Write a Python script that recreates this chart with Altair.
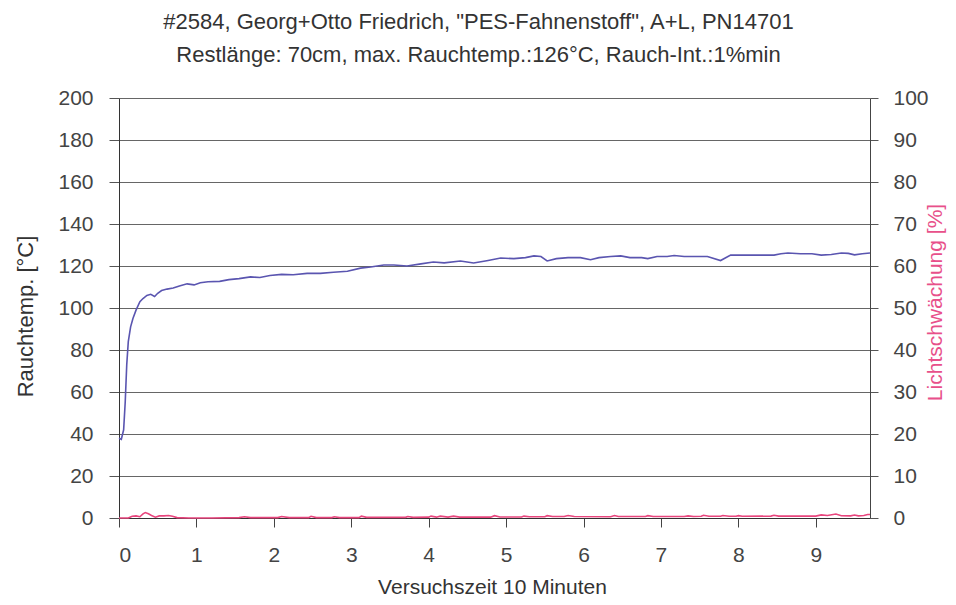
import altair as alt
import pandas as pd

title_lines = [
    '#2584, Georg+Otto Friedrich, "PES-Fahnenstoff", A+L, PN14701',
    "Restlänge: 70cm, max. Rauchtemp.:126°C, Rauch-Int.:1%min",
]

# Rauchtemp. [°C] (left axis)
temp_t = [0, 0.03, 0.06, 0.08, 0.1, 0.12, 0.15, 0.18, 0.22, 0.27, 0.31, 0.36, 0.41, 0.46,
          0.5, 0.55, 0.62, 0.7, 0.78, 0.88, 0.97, 1.05, 1.15, 1.3, 1.42, 1.55, 1.7, 1.82,
          1.95, 2.1, 2.25, 2.43, 2.6, 2.77, 2.95, 3.12, 3.25, 3.42, 3.55, 3.72, 3.9, 4.06,
          4.2, 4.41, 4.58, 4.75, 4.93, 5.1, 5.25, 5.36, 5.45, 5.53, 5.65, 5.8, 5.96, 6.09,
          6.2, 6.35, 6.48, 6.6, 6.75, 6.83, 6.95, 7.08, 7.17, 7.3, 7.45, 7.6, 7.77, 7.9,
          8.05, 8.2, 8.35, 8.46, 8.55, 8.64, 8.8, 8.95, 9.07, 9.2, 9.33, 9.42, 9.5, 9.6, 9.7]
temp_v = [38, 37.5, 42, 55, 73, 84, 91, 95, 99, 103, 104.5, 106, 106.5, 105.5,
          107, 108.3, 109, 109.5, 110.5, 111.5, 111, 112, 112.5, 112.7, 113.5, 114, 114.8, 114.5,
          115.5, 116, 115.8, 116.5, 116.5, 117, 117.5, 119, 119.5, 120.5, 120.5, 120, 121, 121.9,
          121.5, 122.4, 121.4, 122.5, 123.8, 123.5, 124, 124.8, 124.5, 122.4, 123.5, 124, 124, 123,
          124, 124.5, 124.8, 124, 124, 123.5, 124.5, 124.5, 125, 124.5, 124.5, 124.5, 122.6, 125.2,
          125.2, 125.2, 125.2, 125.2, 125.8, 126.2, 125.8, 125.8, 125.2, 125.5, 126.2, 126, 125.3, 125.8, 126.2]

# Lichtschwächung [%] (right axis)
light_t = [0, 0.12, 0.17, 0.22, 0.27, 0.31, 0.34, 0.38, 0.42, 0.47, 0.52, 0.58, 0.64, 0.69,
           0.75, 0.9, 1.2, 1.55, 1.62, 1.7, 2.05, 2.1, 2.2, 2.45, 2.48, 2.55, 2.75, 2.78, 2.85,
           3.1, 3.13, 3.2, 3.7, 3.73, 3.8, 4.0, 4.03, 4.1, 4.15, 4.25, 4.32, 4.4, 4.8, 4.85,
           4.92, 5.2, 5.23, 5.3, 5.5, 5.53, 5.6, 5.75, 5.8, 5.88, 6.35, 6.4, 6.45, 6.8, 6.83,
           6.9, 7.3, 7.35, 7.42, 7.52, 7.55, 7.62, 7.77, 7.8, 7.88, 7.97, 8.0, 8.05, 8.42, 8.46,
           8.52, 9.0, 9.07, 9.15, 9.26, 9.33, 9.45, 9.5, 9.55, 9.62, 9.67, 9.7]
light_v = [0, 0, 0.4, 0.5, 0.3, 1.0, 1.3, 1.0, 0.6, 0.2, 0.5, 0.5, 0.6, 0.4,
           0.1, 0, 0, 0.1, 0.3, 0.1, 0.1, 0.35, 0.1, 0.1, 0.4, 0.1, 0.1, 0.3, 0.1,
           0.1, 0.45, 0.15, 0.15, 0.35, 0.15, 0.2, 0.45, 0.2, 0.45, 0.2, 0.45, 0.2, 0.2, 0.55,
           0.25, 0.25, 0.45, 0.3, 0.3, 0.55, 0.35, 0.35, 0.6, 0.35, 0.3, 0.6, 0.35, 0.35, 0.55,
           0.35, 0.35, 0.5, 0.35, 0.4, 0.65, 0.4, 0.4, 0.6, 0.4, 0.4, 0.55, 0.4, 0.45, 0.65,
           0.45, 0.45, 0.75, 0.6, 0.95, 0.55, 0.5, 0.7, 0.5, 0.6, 0.85, 0.85]

x_tick_values = [0, 0.5, 1, 1.5, 2, 2.5, 3, 3.5, 4, 4.5, 5, 5.5, 6, 6.5, 7, 7.5, 8, 8.5, 9, 9.5]
left_ticks = [0, 20, 40, 60, 80, 100, 120, 140, 160, 180, 200]
right_ticks = [0, 10, 20, 30, 40, 50, 60, 70, 80, 90, 100]

temp_df = pd.DataFrame({"t": temp_t, "v": temp_v})
light_df = pd.DataFrame({"t": light_t, "v": light_v})

FONT = "Liberation Sans"
x_scale = alt.Scale(domain=[0, 9.7], nice=False, zero=False)

x_axis = alt.Axis(
    values=x_tick_values,
    labelExpr="datum.value % 1 === 0 ? format(datum.value, 'd') : ''",
    grid=False, tickSize=9, tickColor="#444", domainColor="#333",
    labelPadding=17, labelFontSize=21, labelColor="#444", labelFont=FONT,
    title="Versuchszeit 10 Minuten", titleFontSize=21, titleFont=FONT,
    titleFontWeight="normal", titleColor="#333", titleX=373, titleY=75,
    titleBaseline="alphabetic", titleAlign="center",
)

temp_line = alt.Chart(temp_df).mark_line(color="#5a55b0", strokeWidth=1.6).encode(
    x=alt.X("t:Q", scale=x_scale, axis=x_axis),
    y=alt.Y("v:Q", scale=alt.Scale(domain=[0, 200], nice=False),
            axis=alt.Axis(values=left_ticks, grid=True, gridColor="#666", gridWidth=1,
                          tickSize=10, tickColor="#555", domainColor="#333",
                          labelPadding=16, labelFontSize=21, labelColor="#444", labelFont=FONT,
                          title="Rauchtemp. [°C]", titleFontSize=22, titleFont=FONT,
                          titleFontWeight="normal", titleColor="#333",
                          titleX=-94, titleY=218, titleAngle=-90,
                          titleAlign="center", titleBaseline="middle")),
)

light_line = alt.Chart(light_df).mark_line(color="#e8457d", strokeWidth=1.6).encode(
    x=alt.X("t:Q", scale=x_scale),
    y=alt.Y("v:Q", scale=alt.Scale(domain=[0, 100], nice=False),
            axis=alt.Axis(orient="right", values=right_ticks, grid=False,
                          tickSize=8, tickColor="#555", domainColor="#444",
                          labelPadding=15, labelFontSize=21, labelColor="#444", labelFont=FONT,
                          title="Lichtschwächung [%]", titleFontSize=21, titleFont=FONT,
                          titleFontWeight="normal", titleColor="#e8508a",
                          titleX=65, titleY=204, titleAngle=-90,
                          titleAlign="center", titleBaseline="middle")),
)

chart = alt.layer(temp_line, light_line).resolve_scale(y="independent").properties(
    width=751, height=420,
    padding={"left": 111, "top": 90, "right": 78, "bottom": 79},
    autosize=alt.AutoSizeParams(type="none"),
    background="white",
    title=alt.TitleParams(text=title_lines, fontSize=22, font=FONT, fontWeight="normal",
                          color="#333", lineHeight=33, anchor="middle", offset=20, dx=-16),
).configure_view(stroke=None)

chart.save("out.html", embed_options={"renderer": "svg", "actions": False})
